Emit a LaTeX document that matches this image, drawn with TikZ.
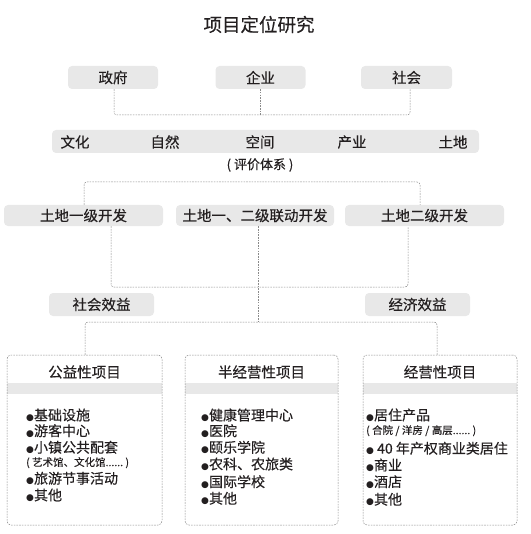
\documentclass[tikz,border=0pt]{standalone}
\usepackage{fontspec}
\setmainfont{Noto Sans CJK SC}[FakeBold=0.25,UprightFeatures={FakeBold=0.25}]
\newfontfamily\dejavu{DejaVu Sans}
\newcommand\bul{{\dejavu\fontsize{9}{9}\selectfont ●}}
\newcommand\fs[1]{\fontsize{#1}{#1}\selectfont}
\definecolor{txt}{HTML}{231F20}
\definecolor{pillgray}{HTML}{E8E8E8}
\definecolor{dashgray}{HTML}{8A8A8A}
\tikzset{
  pill/.style={fill=pillgray, rounded corners=4pt, inner sep=0pt, text=txt, font=\fs{14.5}},
  conn/.style={draw=dashgray, line width=0.5pt, dash pattern=on 1.6pt off 1.1pt, rounded corners=3pt},
  bigbox/.style={draw=dashgray, line width=0.5pt, dash pattern=on 1.6pt off 1.1pt, rounded corners=4pt, inner sep=0pt},
  lbl/.style={text=txt, font=\fs{14.5}, inner sep=0pt},
  item/.style={text=txt, font=\fs{14}, inner sep=0pt, anchor=west},
  small/.style={text=txt, font=\fs{10.5}, inner sep=0pt, anchor=west},
}
\begin{document}
\begin{tikzpicture}[x=1pt, y=-1pt]
\useasboundingbox (0,0) rectangle (530,534);
% title
\node[text=txt, font=\fs{18.5}, inner sep=0pt] (title) at (259,24.5) {项目定位研究};
% row 1
\node[pill, minimum width=90, minimum height=23] (gov) at (113,77.5) {政府};
\node[pill, minimum width=90, minimum height=23] (ent) at (260.5,77.5) {企业};
\node[pill, minimum width=91, minimum height=23] (soc) at (406.5,77.5) {社会};
\coordinate (ja) at (114,115);
\coordinate (jb) at (260.5,115);
\coordinate (jc) at (410,115);
\draw[conn] (gov.south -| ja) -- (ja) -- (jc) -- (soc.south -| jc);
\draw[conn] (ent.south) -- (jb);
% evaluation bar
\node[pill, minimum width=427, minimum height=23] (bar) at (265.5,141.5) {};
\node[lbl] (e1) at (75,142) {文化};
\node[lbl] (e2) at (165,142) {自然};
\node[lbl] (e3) at (260,142) {空间};
\node[lbl] (e4) at (352,142) {产业};
\node[lbl] (e5) at (453,142) {土地};
\node[text=txt, font=\fs{13}, inner sep=0pt] (sys) at (260,165) {(\ 评价体系\ )};
% row 2
\node[pill, minimum width=159, minimum height=21] (l1) at (83.5,215.5) {土地一级开发};
\node[pill, minimum width=158, minimum height=21] (l2) at (255,215.5) {土地一、二级联动开发};
\node[pill, minimum width=159, minimum height=21] (l3) at (424.5,215.5) {土地二级开发};
\coordinate (ua) at (84,182);
\coordinate (ub) at (420,182);
\draw[conn] (l1.north -| ua) -- (ua) -- (ub) -- (l3.north -| ub);
\coordinate (da) at (111,287);
\coordinate (db) at (408,287);
\draw[conn] (l1.south -| da) -- (da) -- (db) -- (l3.south -| db);
% row 3
\node[pill, minimum width=105, minimum height=23] (se) at (101.5,304.5) {社会效益};
\node[pill, minimum width=105, minimum height=23] (ee) at (417.5,304.5) {经济效益};
% big boxes
\fill[pillgray] (7,383) rectangle (162,394);
\fill[pillgray] (185,383) rectangle (338,394);
\fill[pillgray] (363,383) rectangle (517,394);
\node[bigbox, minimum width=155, minimum height=170] (b1) at (84.5,440) {};
\node[bigbox, minimum width=153, minimum height=170] (b2) at (261.5,440) {};
\node[bigbox, minimum width=154, minimum height=170] (b3) at (440,440) {};
\coordinate (ma) at (258,322);
\coordinate (ka) at (85,322);
\coordinate (kb) at (437,322);
\draw[conn] (l2.south -| ma) -- (ma);
\draw[conn] (b1.north -| ka) -- (ka) -- (kb) -- (b3.north -| kb);
% headers
\node[lbl] (h1) at (84.5,372) {公益性项目};
\node[lbl] (h2) at (261.5,372) {半经营性项目};
\node[lbl] (h3) at (440,372) {经营性项目};
% box 1 items
\node[item] (a1) at (26,415) {\bul 基础设施};
\node[item] (a2) at (26,430.7) {\bul 游客中心};
\node[item] (a3) at (26,447.3) {\bul 小镇公共配套};
\node[small] (a4) at (26,462.7) {(\ 艺术馆、文化馆......\ )};
\node[item] (a5) at (26,478.3) {\bul 旅游节事活动};
\node[item] (a6) at (26,495) {\bul 其他};
% box 2 items
\node[item] (c1) at (201,415) {\bul 健康管理中心};
\node[item] (c2) at (201,430.7) {\bul 医院};
\node[item] (c3) at (201,447.3) {\bul 颐乐学院};
\node[item] (c4) at (201,464) {\bul 农科、农旅类};
\node[item] (c5) at (201,481.7) {\bul 国际学校};
\node[item] (c6) at (201,498.3) {\bul 其他};
% box 3 items
\node[item] (d1) at (366,415) {\bul 居住产品};
\node[small] (d2) at (366,430.7) {(\ 合院 / 洋房 / 高层......\ )};
\node[item] (d3) at (366,448.3) {\bul\ 40 年产权商业类居住};
\node[item] (d4) at (366,465) {\bul 商业};
\node[item] (d5) at (366,481.7) {\bul 酒店};
\node[item] (d6) at (366,499.3) {\bul 其他};
\end{tikzpicture}
\end{document}
